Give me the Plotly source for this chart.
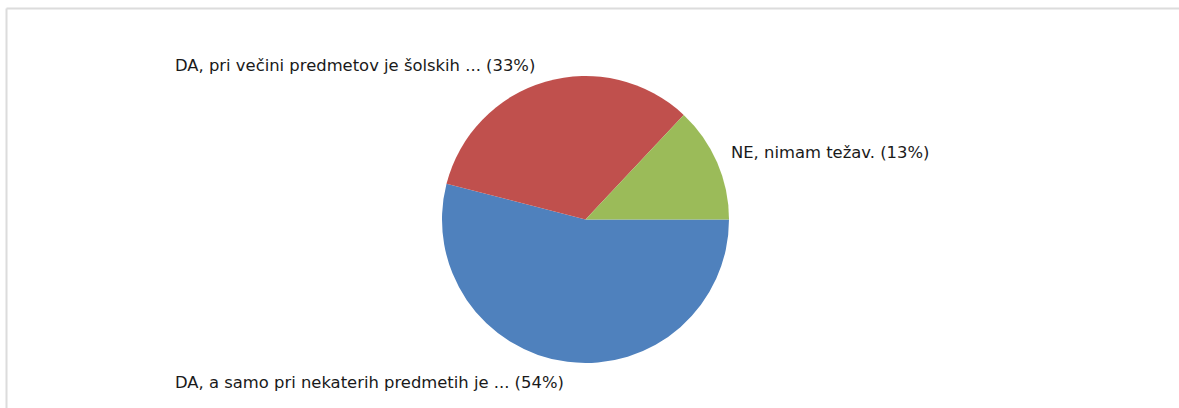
import plotly.graph_objects as go

labels = ["DA, a samo pri nekaterih predmetih je ...", "DA, pri večini predmetov je šolskih ...", "NE, nimam težav."]
values = [54, 33, 13]
colors = ["#4f81bd", "#c0504d", "#9bbb59"]

W, H = 1179, 408
cx, cy, r = 585.5, 219.5, 143.5

fig = go.Figure(go.Pie(
    labels=labels, values=values, sort=False, direction="clockwise", rotation=90,
    marker=dict(colors=colors, line=dict(width=0)), textinfo="none", hoverinfo="label+percent",
    showlegend=False,
    domain=dict(x=[(cx - r) / W, (cx + r) / W], y=[1 - (cy + r) / H, 1 - (cy - r) / H]),
))

total = sum(values)
# label anchor positions (pixels): (x, y, xanchor)
label_pos = [(173, 382, "left"), (173, 65, "left"), (729, 152, "left")]
for lab, v, (x, y, xa) in zip(labels, values, label_pos):
    fig.add_annotation(x=x / W, y=1 - y / H, xref="paper", yref="paper", xanchor=xa, yanchor="middle",
                       text=f"{lab} ({round(100 * v / total)}%)", showarrow=False,
                       font=dict(family="DejaVu Sans", size=16.4, color="#1a1a1a"))

fig.add_shape(type="line", xref="paper", yref="paper", x0=6.5 / W, x1=1, y0=1 - 8.5 / H, y1=1 - 8.5 / H,
              line=dict(color="#dcdcdc", width=2))
fig.add_shape(type="line", xref="paper", yref="paper", x0=6.5 / W, x1=6.5 / W, y0=0, y1=1 - 8.5 / H,
              line=dict(color="#dcdcdc", width=2))

fig.update_layout(width=W, height=H, margin=dict(l=0, r=0, t=0, b=0), paper_bgcolor="white",
                  plot_bgcolor="white")
fig.write_html("out.html", config={"displayModeBar": False},
               post_script="document.body.style.margin='0';document.body.style.overflow='hidden';")
